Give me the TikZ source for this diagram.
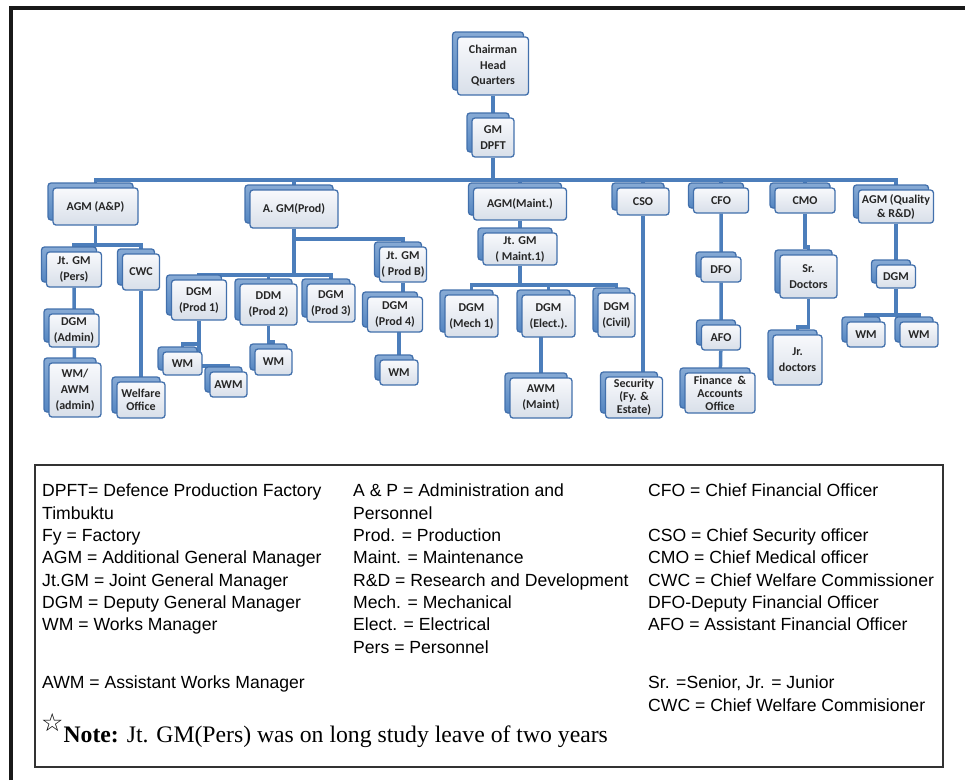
\documentclass[tikz,border=0pt]{standalone}
\usepackage{fontspec}
\setmainfont{Liberation Serif}
\setsansfont{Liberation Sans}
\newfontfamily\chartfont{Carlito}
\newfontfamily\starfont{DejaVu Sans}
\usetikzlibrary{shadows,backgrounds}

\definecolor{linkblue}{RGB}{76,126,187}
\definecolor{edgeblue}{RGB}{66,112,172}
\definecolor{backblue}{RGB}{84,134,194}
\definecolor{facetop}{RGB}{248,249,252}
\definecolor{facebot}{RGB}{216,223,233}

\begin{document}
\begin{tikzpicture}[x=1pt,y=-1pt,
    post/.style={draw=edgeblue,line width=1.3pt,rounded corners=3pt,
        top color=facetop,bottom color=facebot,
        copy shadow={top color=backblue!70!white,bottom color=backblue,draw=edgeblue,
            shadow xshift=-5pt,shadow yshift=5pt},
        font={\chartfont\bfseries\fontsize{12}{16}\selectfont},text=black!85,
        align=center,inner sep=1pt},
    box/.style 2 args={minimum width=#1pt,minimum height=#2pt},
    tight/.style={font={\chartfont\bfseries\fontsize{12}{13}\selectfont}},
    link/.style={draw=linkblue,line width=3.5pt},
    legend/.style={font={\sffamily\fontsize{17.6}{22.3}\selectfont},
        align=left,anchor=north west,inner sep=0pt}]
\useasboundingbox (0,0) rectangle (965,780);
\draw[line width=3.5pt,black!90] (11,780) -- (11,8) -- (965,8);

% top of the chart
\node[post,box={71}{58},font={\chartfont\bfseries\fontsize{12}{15.5}\selectfont}] (chair) at (493,66) {Chairman\\Head\\Quarters};
\node[post,box={42}{39}] (gm) at (493,137.5) {GM\\DPFT};

% first row below the bus
\node[post,box={85}{37}] (agmap) at (95.5,206.5) {AGM (A\&P)};
\node[post,box={88}{38}] (agmprod) at (294,209) {A. GM(Prod)};
\node[post,box={93}{32}] (agmmaint) at (520,204) {AGM(Maint.)};
\node[post,box={52}{27}] (cso) at (643,201.5) {CSO};
\node[post,box={55}{25}] (cfo) at (721,200.5) {CFO};
\node[post,box={60}{25}] (cmo) at (805,200.5) {CMO};
\node[post,box={75}{33},font={\chartfont\bfseries\fontsize{12}{14}\selectfont}] (agmq) at (896,206.5) {AGM (Quality\\\& R\&D)};

% A&P branch
\node[post,box={55}{35}] (jtpers) at (74,269.5) {Jt. GM\\(Pers)};
\node[post,box={37}{36}] (cwc) at (141,272) {CWC};
\node[post,box={50}{33}] (dgmadmin) at (74,330.5) {DGM\\(Admin)};
\node[post,box={52}{54}] (wmawm) at (75,390) {WM/\\AWM\\(admin)};
\node[post,box={48}{36},tight] (welfare) at (141,400) {Welfare\\Office};

% production branch
\node[post,box={55}{40}] (prod1) at (199,300) {DGM\\(Prod 1)};
\node[post,box={57}{41}] (prod2) at (268.5,304.5) {DDM\\(Prod 2)};
\node[post,box={48}{38}] (prod3) at (331,303) {DGM\\(Prod 3)};
\node[post,box={47}{35}] (prodb) at (403,264.5) {Jt. GM\\( Prod B)};
\node[post,box={55}{35}] (prod4) at (395,314.5) {DGM\\(Prod 4)};
\node[post,box={39}{23}] (wma) at (182.5,363.5) {WM};
\node[post,box={37}{25}] (awma) at (228.5,384.5) {AWM};
\node[post,box={37}{26}] (wmb) at (273.5,362) {WM};
\node[post,box={38}{25}] (wmc) at (399,372.5) {WM};

% maintenance branch
\node[post,box={74}{32}] (jtmaint) at (520,249) {Jt. GM\\( Maint.1)};
\node[post,box={53}{42}] (mech) at (471.5,316) {DGM\\(Mech 1)};
\node[post,box={53}{42}] (elect) at (548.5,316) {DGM\\(Elect.).};
\node[post,box={37}{44}] (civil) at (616.5,315) {DGM\\(Civil)};
\node[post,box={62}{40}] (awmmaint) at (541,398) {AWM\\(Maint)};

% security, finance, medical, quality
\node[post,box={57}{41},tight] (security) at (634,397.5) {Security\\(Fy. \&\\Estate)};
\node[post,box={40}{25}] (dfo) at (721,269.5) {DFO};
\node[post,box={39}{25}] (afo) at (721,337.5) {AFO};
\node[post,box={70}{40},tight] (finance) at (720,393) {Finance \ \&\\Accounts\\Office};
\node[post,box={57}{43}] (srdoc) at (808.5,276.5) {Sr.\\Doctors};
\node[post,box={49}{50}] (jrdoc) at (797.5,360) {Jr.\\doctors};
\node[post,box={39}{23}] (dgmq) at (896,276.5) {DGM};
\node[post,box={38}{25}] (wmqa) at (866,334.5) {WM};
\node[post,box={38}{25}] (wmqb) at (919,334.5) {WM};

\begin{scope}[on background layer]
\draw[link] (chair) -- (gm) -- (gm |- 0,180);
\draw[link] (agmap) |- (agmq |- 0,180) -- (agmq);
\draw[link] (agmprod) -- (agmprod |- 0,180);
\draw[link] (agmmaint) -- (agmmaint |- 0,180);
\draw[link] (cso) -- (cso |- 0,180);
\draw[link] (cfo) -- (cfo |- 0,180);
\draw[link] (cmo) -- (cmo |- 0,180);
% A&P
\draw[link] (agmap) -- (agmap |- 0,245);
\draw[link] (jtpers) |- (cwc |- 0,245) -- (cwc);
\draw[link] (jtpers) -- (dgmadmin) -- (wmawm);
\draw[link] (cwc) -- (welfare);
% production
\draw[link] (agmprod) |- (prodb |- 0,239) -- (prodb);
\draw[link] (agmprod) -- (agmprod |- 0,275);
\draw[link] (prod1) |- (prod3 |- 0,275) -- (prod3);
\draw[link] (prod2) -- (prod2 |- 0,275);
\draw[link] (prod1) |- (wma |- 0,344) -- (wma);
\draw[link] (prod1) |- (awma |- 0,366) -- (awma);
\draw[link] (prod2) |- (wmb |- 0,342) -- (wmb);
\draw[link] (prodb) |- (prod4);
\draw[link] (wmc) |- (prod4);
% maintenance
\draw[link] (agmmaint) -- (jtmaint) -- (jtmaint |- 0,285);
\draw[link] (mech) |- (civil |- 0,285) -- (civil);
\draw[link] (elect) -- (elect |- 0,285);
\draw[link] (awmmaint) |- (elect);
% the rest
\draw[link] (cso) |- (security);
\draw[link] (cfo) -- (dfo) -- (afo) -- (finance);
\draw[link] (cmo) |- (srdoc |- 0,247) -- (srdoc);
\draw[link] (srdoc) |- (jrdoc |- 0,327) -- (jrdoc);
\draw[link] (agmq) -- (dgmq);
\draw[link] (wmqa) |- (wmqb |- 0,315) -- (wmqb);
\draw[link] (dgmq) -- (dgmq |- 0,315);
\end{scope}

% abbreviations
\draw[black!80,line width=1.2pt] (35,465) rectangle (943,767);
\node[legend] (abbra) at (42,484) {DPFT= Defence Production Factory\\Timbuktu\\Fy = Factory\\AGM = Additional General Manager\\Jt.GM = Joint General Manager\\DGM = Deputy General Manager\\WM = Works Manager\\[35.7pt]AWM = Assistant Works Manager};
\node[legend] (abbrb) at (353,484) {A \& P = Administration and\\Personnel\\Prod. = Production\\Maint. = Maintenance\\R\&D = Research and Development\\Mech. = Mechanical\\Elect. = Electrical\\Pers = Personnel};
\node[legend] (abbrc) at (648,484) {CFO = Chief Financial Officer\\[22.3pt]CSO = Chief Security officer\\CMO = Chief Medical officer\\CWC = Chief Welfare Commissioner\\DFO-Deputy Financial Officer\\AFO = Assistant Financial Officer\\[35.7pt]Sr. =Senior, Jr. = Junior\\CWC = Chief Welfare Commisioner};
\node[anchor=base west,inner sep=0pt,font=\fontsize{23.7}{28}\selectfont] (note) at (41,742) {{\starfont\fontsize{25}{25}\selectfont\raisebox{11pt}{☆}}\textbf{Note:} Jt. GM(Pers) was on long study leave of two years};
\end{tikzpicture}
\end{document}
